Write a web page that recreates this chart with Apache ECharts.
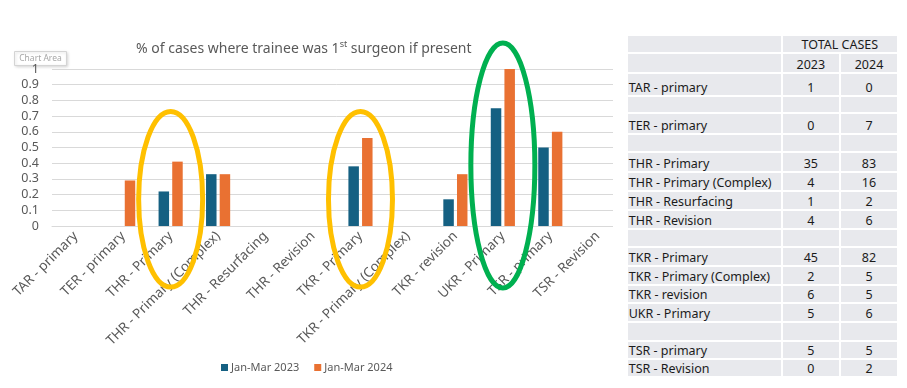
<!DOCTYPE html>
<html><head><meta charset="utf-8">
<script src="https://cdn.jsdelivr.net/npm/echarts@6/dist/echarts.min.js"></script>
<style>
html,body{margin:0;padding:0;background:#fff;overflow:hidden;}
#chart{position:absolute;left:0;top:0;width:907px;height:388px;}
#table{position:absolute;left:613px;top:0;width:294px;height:388px;background:#fff;}
.cell{position:absolute;background:#e8e9ed;font-family:'Noto Sans',sans-serif;font-size:12.5px;line-height:14px;color:#1b1b1b;white-space:nowrap;overflow:hidden;box-sizing:border-box;display:flex;align-items:flex-end;}
</style></head><body>
<div id="chart"></div><div id="table"></div>
<script>
// ---- chart data ----
const categories = ['TAR - primary','TER - primary','THR - Primary','THR - Primary (Complex)','THR - Resurfacing','THR - Revision','TKR - Primary','TKR - Primary (Complex)','TKR - revision','UKR - Primary','TSR - primary','TSR - Revision'];
const share2023 = [0, 0, 0.22, 0.33, 0, 0, 0.38, 0, 0.17, 0.75, 0.5, 0];
const share2024 = [0, 0.29, 0.41, 0.33, 0, 0, 0.56, 0, 0.33, 1, 0.6, 0];
const seriesNames = ['Jan-Mar 2023', 'Jan-Mar 2024'];
const yTicks = [0, 0.1, 0.2, 0.3, 0.4, 0.5, 0.6, 0.7, 0.8, 0.9, 1];

// ---- table data ----
const tableHeader = 'TOTAL CASES';
const tableYears = ['2023', '2024'];
const tableRows = ['TAR - primary','','TER - primary','','THR - Primary','THR - Primary (Complex)','THR - Resurfacing','THR - Revision','','TKR - Primary','TKR - Primary (Complex)','TKR - revision','UKR - Primary','','TSR - primary','TSR - Revision'];
const cases2023 = [1, null, 0, null, 35, 4, 1, 4, null, 45, 2, 6, 5, null, 5, 0];
const cases2024 = [0, null, 7, null, 83, 16, 2, 6, null, 82, 5, 5, 6, null, 5, 2];

// ---- highlight rings (annotation) ----
const rings = [
  {cat: 'THR - Primary', color: '#FFC000', topValue: 0.73, below: 61, rx: 32},
  {cat: 'TKR - Primary', color: '#FFC000', topValue: 0.73, below: 61, rx: 32},
  {cat: 'UKR - Primary', color: '#00B050', topValue: 1.166, below: 62, rx: 32}
];

const FONT = 'Noto Sans';
const chart = echarts.init(document.getElementById('chart'), null, {renderer: 'canvas'});
const option = {
  animation: false,
  backgroundColor: '#fff',
  title: {
    text: '% of cases where trainee was 1{sup|st} surgeon if present',
    left: 131, top: 35,
    textStyle: {
      fontFamily: FONT, fontSize: 14, fontWeight: 'normal', color: '#595959', lineHeight: 18,
      rich: {sup: {fontFamily: FONT, fontSize: 9, color: '#595959', verticalAlign: 'top', lineHeight: 18, padding: [0,0,7,0]}}
    }
  },
  legend: {
    data: seriesNames, left: 216, top: 357, icon: 'rect', itemWidth: 7, itemHeight: 7, itemGap: 15,
    textStyle: {fontFamily: FONT, fontSize: 11, color: '#595959', padding: [0,0,0,-2]}
  },
  grid: {left: 52, right: 285.5, top: 69, bottom: 162, containLabel: false},
  xAxis: {
    type: 'category', data: categories,
    axisLine: {lineStyle: {color: '#d9d9d9'}}, axisTick: {show: false},
    axisLabel: {interval: 0, rotate: 45, margin: 8, fontFamily: FONT, fontSize: 13.5, color: '#595959'}
  },
  yAxis: {
    type: 'value', min: 0, max: 1, interval: 0.1,
    axisLine: {show: false}, axisTick: {show: false},
    splitLine: {lineStyle: {color: '#d9d9d9'}},
    axisLabel: {margin: 13, fontFamily: FONT, fontSize: 12.5, color: '#595959',
      formatter: v => { const t = yTicks.find(x => Math.abs(x - v) < 1e-6); return String(t === undefined ? v : t); }}
  },
  series: [
    {name: seriesNames[0], type: 'bar', data: share2023, barWidth: 10.5, barGap: '30%', itemStyle: {color: '#156082'}},
    {name: seriesNames[1], type: 'bar', data: share2024, barWidth: 10.5, barGap: '30%', itemStyle: {color: '#E97132'}}
  ]
};
chart.setOption(option);

// ring annotations positioned from the axes
const axisY = chart.convertToPixel({yAxisIndex: 0}, 0);
const graphics = rings.map(r => {
  const cx = chart.convertToPixel({xAxisIndex: 0}, r.cat);
  const top = chart.convertToPixel({yAxisIndex: 0}, r.topValue);
  const bottom = axisY + r.below;
  return {type: 'ellipse', z: 100, silent: true,
    shape: {cx: cx, cy: (top + bottom) / 2, rx: r.rx, ry: (bottom - top) / 2},
    style: {fill: 'none', stroke: r.color, lineWidth: 5}};
});
graphics.push({
  type: 'group', left: 14, top: 51, z: 90, children: [
    {type: 'rect', shape: {x: 0, y: 0, width: 52, height: 14},
     style: {fill: '#fff', stroke: '#d4d4d4', lineWidth: 1, shadowBlur: 3, shadowColor: 'rgba(0,0,0,0.15)', shadowOffsetX: 1, shadowOffsetY: 1}},
    {type: 'text', style: {x: 26, y: 7, text: 'Chart Area', fontFamily: FONT, fontSize: 8.5, fill: '#a6a6a6', align: 'center', verticalAlign: 'middle'}}
  ]
});
chart.setOption({graphic: graphics});

// ---- table ----
const rowHeights = [18.3, 20, 22.4, 17.6, 21, 17.4, 20.6, 18.7, 19, 19, 17.7, 19, 19.3, 18.3, 18.4, 19, 18.6, 17.4];
const colX = [626.7, 781.7, 840, 898];
const tbl = document.getElementById('table');
function cell(x0, x1, y0, h, text, align) {
  const d = document.createElement('div');
  d.className = 'cell';
  d.style.left = (x0 + 1 - 613) + 'px';
  d.style.width = (x1 - x0 - 2) + 'px';
  d.style.top = (y0 + 1) + 'px';
  d.style.height = (h - 2) + 'px';
  d.style.justifyContent = align === 'left' ? 'flex-start' : 'center';
  if (align === 'left') d.style.paddingLeft = '1px';
  d.textContent = text;
  tbl.appendChild(d);
}
let y = 35;
// header row 1
cell(colX[0], colX[1], y, rowHeights[0], '', 'left');
cell(colX[1], colX[3], y, rowHeights[0], tableHeader, 'center');
y += rowHeights[0];
cell(colX[0], colX[1], y, rowHeights[1], '', 'left');
cell(colX[1], colX[2], y, rowHeights[1], tableYears[0], 'center');
cell(colX[2], colX[3], y, rowHeights[1], tableYears[1], 'center');
y += rowHeights[1];
tableRows.forEach((name, i) => {
  const h = rowHeights[i + 2];
  cell(colX[0], colX[1], y, h, name, 'left');
  cell(colX[1], colX[2], y, h, cases2023[i] === null ? '' : String(cases2023[i]), 'center');
  cell(colX[2], colX[3], y, h, cases2024[i] === null ? '' : String(cases2024[i]), 'center');
  y += h;
});
</script>
</body></html>
